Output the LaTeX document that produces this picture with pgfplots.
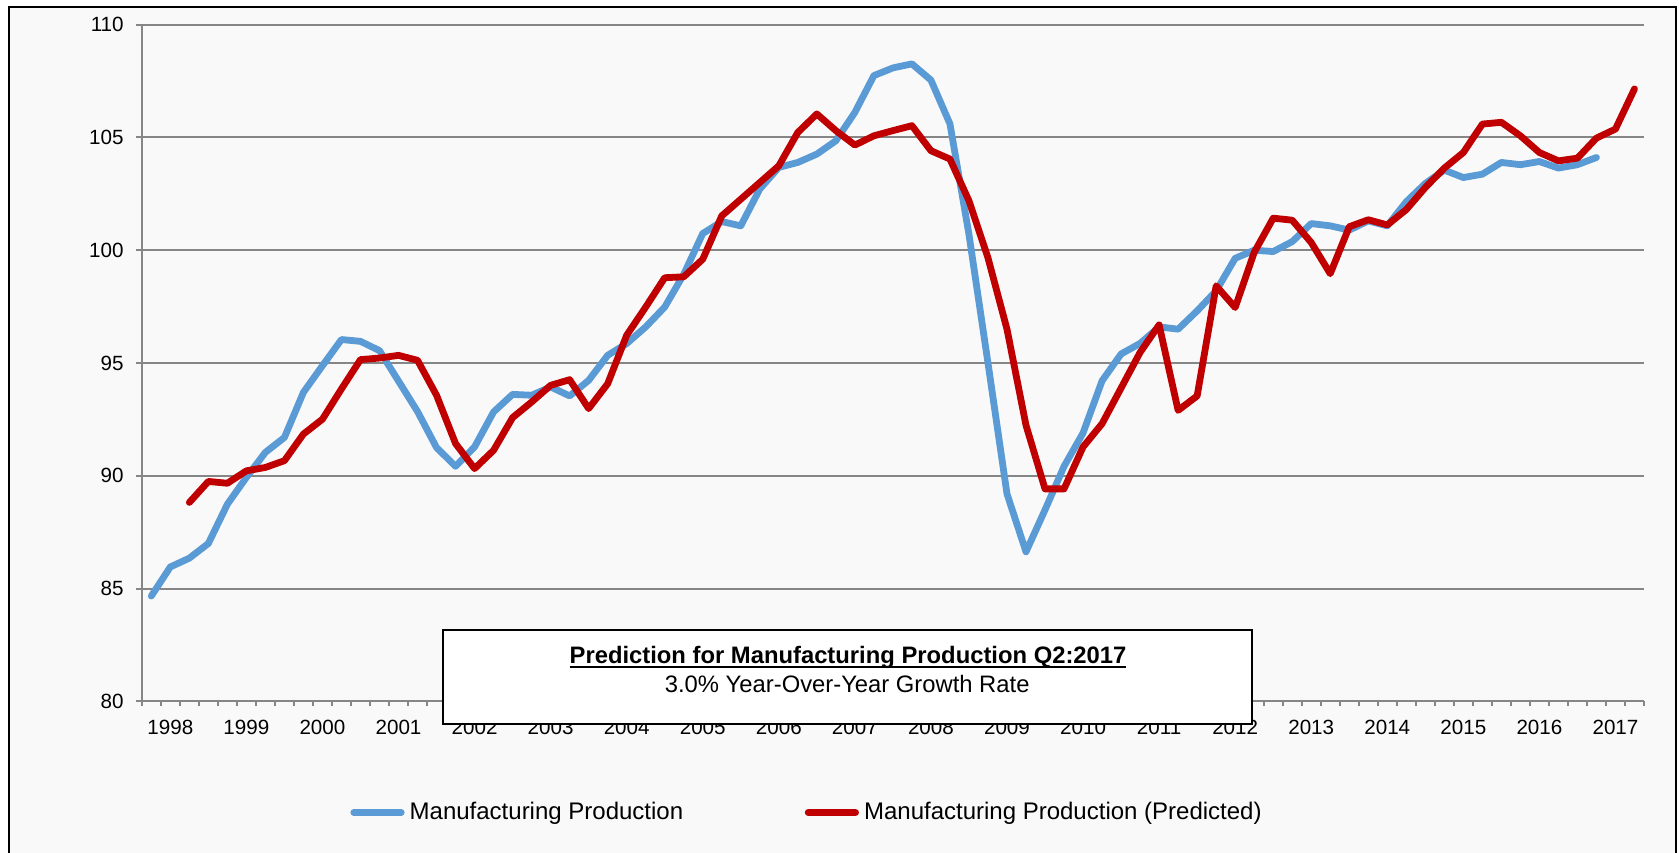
\documentclass[border=0pt]{standalone}
\usepackage{fontspec}
\setmainfont{Liberation Sans}
\usepackage{pgfplots}
\usepackage{pgfplotstable}
\pgfplotsset{compat=1.18}

\definecolor{mpBlue}{RGB}{91,155,213}
\definecolor{mpRed}{RGB}{192,0,0}
\definecolor{gridGray}{RGB}{134,134,134}
\definecolor{chartBg}{RGB}{249,249,249}

% underline that runs just below the baseline (through descenders), as in the source
\newsavebox\ulbox
\newcommand\ulbold[1]{\sbox\ulbox{#1}\rlap{\rule[-2.1pt]{\wd\ulbox}{0.9pt}}\usebox\ulbox}

% quarter index: 0 = 1997Q4 ... 78 = 2017Q2
\pgfplotstableread{
q val
0 84.67
1 85.96
2 86.35
3 87.00
4 88.74
5 89.93
6 91.04
7 91.70
8 93.70
9 94.88
10 96.04
11 95.96
12 95.55
13 94.20
14 92.85
15 91.25
16 90.42
17 91.28
18 92.83
19 93.61
20 93.57
21 93.94
22 93.54
23 94.23
24 95.34
25 95.86
26 96.60
27 97.48
28 98.93
29 100.74
30 101.27
31 101.08
32 102.71
33 103.67
34 103.89
35 104.26
36 104.85
37 106.11
38 107.74
39 108.08
40 108.26
41 107.54
42 105.60
43 100.70
44 95.00
45 89.20
46 86.63
47 88.49
48 90.42
49 91.90
50 94.21
51 95.40
52 95.87
53 96.60
54 96.50
55 97.31
56 98.20
57 99.64
58 100.00
59 99.94
60 100.38
61 101.18
62 101.08
63 100.89
64 101.30
65 101.08
66 102.15
67 102.96
68 103.55
69 103.22
70 103.37
71 103.89
72 103.79
73 103.93
74 103.64
75 103.79
76 104.11
}\actual

\pgfplotstableread{
q val
2 88.82
3 89.75
4 89.67
5 90.22
6 90.37
7 90.67
8 91.85
9 92.51
10 93.85
11 95.15
12 95.22
13 95.34
14 95.12
15 93.57
16 91.43
17 90.32
18 91.13
19 92.58
20 93.27
21 94.01
22 94.26
23 92.98
24 94.08
25 96.23
26 97.48
27 98.78
28 98.82
29 99.60
30 101.52
31 102.26
32 103.00
33 103.74
34 105.22
35 106.04
36 105.30
37 104.66
38 105.07
39 105.30
40 105.52
41 104.41
42 104.04
43 102.19
44 99.66
45 96.50
46 92.24
47 89.42
48 89.42
49 91.28
50 92.31
51 93.89
52 95.47
53 96.69
54 92.90
55 93.54
56 98.42
57 97.46
58 99.90
59 101.42
60 101.33
61 100.34
62 98.96
63 101.04
64 101.35
65 101.12
66 101.80
67 102.78
68 103.64
69 104.33
70 105.59
71 105.67
72 105.07
73 104.33
74 103.96
75 104.08
76 104.97
77 105.37
78 107.15
}\predicted

\begin{document}
\begin{tikzpicture}
\fill[chartBg] (-66.4pt,-90pt) rectangle (767.1pt,347.2pt);
\begin{axis}[
  scale only axis, width=751.1pt, height=338.4pt,
  xmin=-0.5, xmax=78.5, ymin=80, ymax=110,
  axis x line=bottom, axis y line=left,
  axis line style={-, draw=gridGray, line width=1pt},
  ytick={80,85,...,110},
  xtick={1,5,...,77},
  xticklabels={1998,1999,2000,2001,2002,2003,2004,2005,2006,2007,2008,2009,2010,2011,2012,2013,2014,2015,2016,2017},
  minor xtick={-0.5,0.5,...,78.5},
  tick align=outside,
  major tick length=3pt, minor tick length=2.5pt,
  tick style={draw=gridGray, line width=1pt},
  major x tick style={draw=none},
  ymajorgrids, major grid style={draw=gridGray, line width=1pt},
  /pgf/number format/assume math mode=true,
  tick label style={font=\fontsize{10.3}{12}\selectfont},
  yticklabel style={anchor=east, inner sep=0pt, xshift=-5.9pt},
  xticklabel style={anchor=base, inner sep=0pt, yshift=-13.5pt},
  legend columns=2,
  legend style={draw=none, fill=none, inner xsep=0pt, inner ysep=0pt,
    font=\fontsize{12}{14}\selectfont,
    nodes={inner sep=0pt},
    at={(0.1386,-0.16415)}, anchor=west,
    /tikz/every odd column/.style={column sep=2.55pt},
    /tikz/every even column/.style={column sep=60.8pt}},
  legend image code/.code={\draw[#1, line cap=round] (1.65pt,0pt) -- (25.35pt,0pt);},
]
\addplot[mpBlue, line width=3.4pt, line join=round, line cap=round] table[x=q, y=val] {\actual};
\addlegendentry{Manufacturing Production}
\addplot[mpRed, line width=3.4pt, line join=round, line cap=round] table[x=q, y=val] {\predicted};
\addlegendentry{Manufacturing Production (Predicted)}
\end{axis}
% prediction box
\draw[black, line width=1pt, fill=white] (150.6pt,-11.05pt) rectangle (555.1pt,35.7pt);
\node[anchor=base, inner sep=0pt, font=\fontsize{11.9}{14}\selectfont\bfseries] at (353.1pt,19.05pt)
  {\ulbold{Prediction for Manufacturing Production Q2:2017}};
\node[anchor=base, inner sep=0pt, font=\fontsize{11.9}{14}\selectfont] at (352.7pt,4.35pt)
  {3.0\% Year-Over-Year Growth Rate};
% chart border
\draw[black, line width=1pt] (-66.4pt,-90pt) -- (-66.4pt,347.2pt) -- (767.1pt,347.2pt) -- (767.1pt,-90pt);
\pgfresetboundingbox
\path[use as bounding box] (-70.9pt,-75.3pt) rectangle (768.6pt,350.7pt);
\end{tikzpicture}
\end{document}
